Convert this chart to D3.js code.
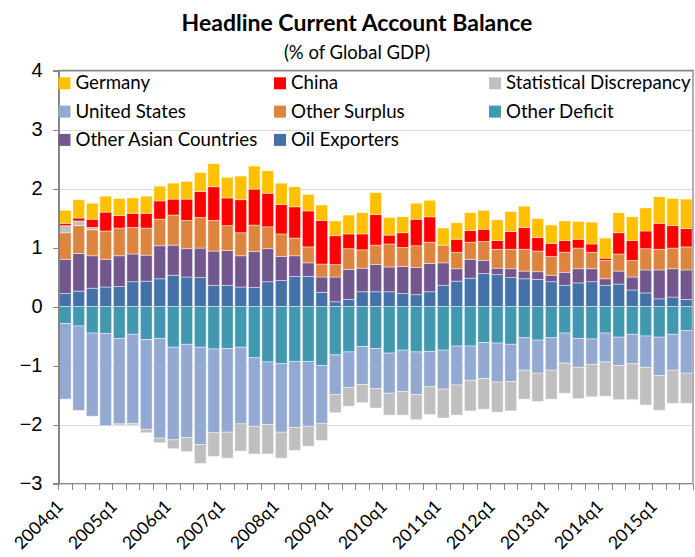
<!DOCTYPE html>
<html>
<head>
  <meta charset="utf-8">
  <script src="https://cdn.jsdelivr.net/npm/d3@7"></script>
  <style>
    body { margin: 0; background: #fff; }
    svg { font-family: Lato, "Noto Sans", sans-serif; }
    .grid line { stroke: #d9d9d9; stroke-width: 1px; shape-rendering: crispEdges; }
    .axis path, .axis line { stroke: #868686; shape-rendering: crispEdges; }
    .axis text { fill: #000; }
    .seg { stroke: #fff; stroke-opacity: 0.55; stroke-width: 0.8px; }
  </style>
</head>
<body>
<div id="chart"></div>
<script>
  // quarters on the category axis
  var quarters = [
    "2004q1","2004q2","2004q3","2004q4","2005q1","2005q2","2005q3","2005q4",
    "2006q1","2006q2","2006q3","2006q4","2007q1","2007q2","2007q3","2007q4",
    "2008q1","2008q2","2008q3","2008q4","2009q1","2009q2","2009q3","2009q4",
    "2010q1","2010q2","2010q3","2010q4","2011q1","2011q2","2011q3","2011q4",
    "2012q1","2012q2","2012q3","2012q4","2013q1","2013q2","2013q3","2013q4",
    "2014q1","2014q2","2014q3","2014q4","2015q1","2015q2","2015q3"
  ];

  // % of global GDP
  var oilExporters = [.22,.26,.31,.33,.34,.42,.43,.47,.53,.50,.49,.36,.36,.33,.32,.42,.44,.51,.51,.24,.08,.12,.25,.25,.25,.22,.20,.25,.36,.43,.48,.56,.54,.49,.47,.46,.42,.36,.40,.42,.36,.38,.28,.23,.13,.16,.12];
  var otherAsian = [.58,.64,.55,.47,.52,.47,.44,.56,.51,.48,.50,.58,.59,.53,.61,.56,.41,.35,.23,.26,.42,.51,.40,.46,.42,.46,.46,.48,.38,.21,.32,.22,.11,.15,.13,.13,.11,.22,.24,.22,.11,.22,.22,.39,.49,.48,.50];
  var otherSurplus = [.45,.47,.44,.48,.47,.45,.46,.45,.51,.48,.52,.52,.42,.39,.45,.37,.38,.30,.27,.22,.21,.35,.31,.33,.39,.32,.37,.36,.30,.28,.29,.32,.32,.33,.37,.35,.32,.34,.35,.28,.31,.29,.28,.36,.35,.35,.39];
  var otherDeficit = [-.29,-.33,-.45,-.46,-.54,-.47,-.56,-.54,-.69,-.64,-.69,-.72,-.71,-.69,-.87,-.94,-.97,-.93,-.93,-1.00,-.82,-.77,-.68,-.71,-.79,-.74,-.77,-.76,-.74,-.67,-.67,-.61,-.62,-.64,-.53,-.57,-.53,-.45,-.54,-.55,-.45,-.52,-.47,-.50,-.52,-.47,-.41];
  var unitedStates = [-1.28,-1.43,-1.41,-1.56,-1.45,-1.51,-1.52,-1.69,-1.57,-1.58,-1.65,-1.42,-1.42,-1.30,-1.16,-1.06,-1.16,-1.12,-1.10,-.98,-.67,-.60,-.64,-.68,-.68,-.70,-.72,-.60,-.66,-.66,-.58,-.61,-.66,-.63,-.55,-.56,-.55,-.51,-.49,-.43,-.49,-.48,-.50,-.53,-.65,-.61,-.72];
  var statDiscrepancy = [.12,.08,.04,0,-.02,-.03,-.06,-.08,-.15,-.24,-.32,-.40,-.44,-.46,-.47,-.50,-.44,-.39,-.34,-.29,-.31,-.32,-.31,-.33,-.37,-.40,-.43,-.47,-.49,-.51,-.52,-.52,-.51,-.50,-.49,-.48,-.49,-.51,-.53,-.55,-.58,-.58,-.61,-.64,-.59,-.56,-.51];
  var china = [.04,.05,.14,.32,.21,.24,.25,.31,.27,.36,.44,.57,.47,.56,.61,.57,.50,.53,.61,.74,.49,.25,.27,.52,.15,.25,.45,.43,0,.22,.20,.21,.15,.30,.37,.23,.22,.20,.15,.14,.04,.36,.34,.30,.44,.38,.31];
  var germany = [.22,.31,.27,.27,.29,.26,.29,.25,.27,.30,.32,.39,.35,.40,.39,.38,.36,.34,.28,.26,.25,.32,.36,.37,.30,.27,.27,.28,.29,.28,.30,.32,.35,.34,.36,.32,.31,.33,.30,.37,.34,.34,.40,.39,.45,.46,.50];

  var yTicks = [-3, -2, -1, 0, 1, 2, 3, 4];

  // stacking order (bottom up for positives, top down for negatives)
  var series = [
    { key: "Oil Exporters", values: oilExporters, color: "#4472a8" },
    { key: "Other Asian Countries", values: otherAsian, color: "#72578f" },
    { key: "Other Surplus", values: otherSurplus, color: "#dd843f" },
    { key: "Other Deficit", values: otherDeficit, color: "#4298af" },
    { key: "United States", values: unitedStates, color: "#94a9d1" },
    { key: "Statistical Discrepancy", values: statDiscrepancy, color: "#bfbfbf" },
    { key: "China", values: china, color: "#ff0000" },
    { key: "Germany", values: germany, color: "#ffc000" }
  ];
  var legendOrder = [
    "Germany", "China", "Statistical Discrepancy",
    "United States", "Other Surplus", "Other Deficit",
    "Other Asian Countries", "Oil Exporters"
  ];

  var W = 695, H = 557;
  var plot = { left: 58.5, right: 693, top: 70.5, bottom: 483.5 };

  var rows = quarters.map(function(q, i) {
    var r = { q: q };
    series.forEach(function(s) { r[s.key] = s.values[i]; });
    return r;
  });

  var color = {};
  series.forEach(function(s) { color[s.key] = s.color; });

  var svg = d3.select("#chart").append("svg")
    .attr("width", W)
    .attr("height", H);

  var x = d3.scaleBand().domain(quarters)
    .range([plot.left, plot.right])
    .paddingInner(0.13)
    .paddingOuter(0.065);
  var y = d3.scaleLinear().domain([-3, 4]).range([plot.bottom, plot.top]);

  // gridlines
  svg.append("g").attr("class", "grid")
    .selectAll("line")
    .data(yTicks)
    .join("line")
    .attr("x1", plot.left).attr("x2", plot.right)
    .attr("y1", function(d) { return Math.round(y(d)) + 0.5; })
    .attr("y2", function(d) { return Math.round(y(d)) + 0.5; });

  // bars
  var stack = d3.stack()
    .keys(series.map(function(s) { return s.key; }))
    .offset(d3.stackOffsetDiverging);
  var stacked = stack(rows);

  svg.append("g").selectAll("g")
    .data(stacked)
    .join("g")
    .attr("fill", function(d) { return color[d.key]; })
    .selectAll("rect")
    .data(function(d) { return d; })
    .join("rect")
    .attr("class", "seg")
    .attr("x", function(d) { return x(d.data.q); })
    .attr("width", x.bandwidth())
    .attr("y", function(d) { return y(Math.max(d[0], d[1])); })
    .attr("height", function(d) { return Math.abs(y(d[0]) - y(d[1])); });

  // frame: top and right edges
  svg.append("path")
    .attr("d", "M" + plot.left + "," + plot.top + "H" + plot.right + "V" + plot.bottom)
    .attr("fill", "none")
    .attr("stroke", "#868686")
    .attr("stroke-width", 1.3);

  // y axis
  var yAxis = svg.append("g").attr("class", "axis")
    .attr("transform", "translate(" + plot.left + ",0)")
    .call(d3.axisLeft(y).tickValues(yTicks).tickSize(6).tickPadding(10).tickFormat(d3.format("d")));
  yAxis.select(".domain").attr("stroke-width", 1.6);
  yAxis.selectAll("text").style("font-size", "20px");
  yAxis.selectAll(".tick line").attr("stroke", "#a6a6a6");

  // x axis: ticks on the band boundaries, labels on each q1
  var step = x.step();
  var gap = step - x.bandwidth();
  var xAxis = svg.append("g").attr("class", "axis")
    .attr("transform", "translate(0," + plot.bottom + ")");
  xAxis.append("line")
    .attr("x1", plot.left - 6).attr("x2", plot.right)
    .attr("stroke-width", 1.6);
  xAxis.selectAll(".qtick")
    .data(quarters)
    .join("line")
    .attr("class", "qtick")
    .attr("x1", function(d) { return x(d) - gap / 2; })
    .attr("x2", function(d) { return x(d) - gap / 2; })
    .attr("y1", 0).attr("y2", 6)
    .attr("stroke", "#a6a6a6");
  xAxis.append("line")
    .attr("x1", plot.right).attr("x2", plot.right)
    .attr("y1", 0).attr("y2", 6)
    .attr("stroke", "#a6a6a6");

  xAxis.selectAll(".xlab")
    .data(quarters.filter(function(q) { return q.slice(-2) === "q1"; }))
    .join("text")
    .attr("class", "xlab")
    .attr("text-anchor", "end")
    .style("font-size", "17.5px")
    .attr("transform", function(d) {
      return "translate(" + (x(d) + x.bandwidth() / 2 - 1) + ",24) rotate(-45)";
    })
    .text(function(d) { return d; });

  // title
  svg.append("text")
    .attr("x", 357).attr("y", 31)
    .attr("text-anchor", "middle")
    .style("font-weight", "bold")
    .style("font-size", "23px")
    .text("Headline Current Account Balance");
  svg.append("text")
    .attr("x", 357).attr("y", 59)
    .attr("text-anchor", "middle")
    .style("font-size", "18.5px")
    .text("(% of Global GDP)");

  // legend
  var legendCols = [58.5, 274, 489];
  var legend = svg.append("g").selectAll("g")
    .data(legendOrder)
    .join("g")
    .attr("transform", function(d, i) {
      return "translate(" + legendCols[i % 3] + "," + (89.3 + Math.floor(i / 3) * 28.3) + ")";
    });
  legend.append("rect")
    .attr("x", 0).attr("y", -12)
    .attr("width", 12).attr("height", 12)
    .attr("fill", function(d) { return color[d]; });
  legend.append("text")
    .attr("x", 17)
    .style("font-size", "18.7px")
    .text(function(d) { return d; });
</script>
</body>
</html>
